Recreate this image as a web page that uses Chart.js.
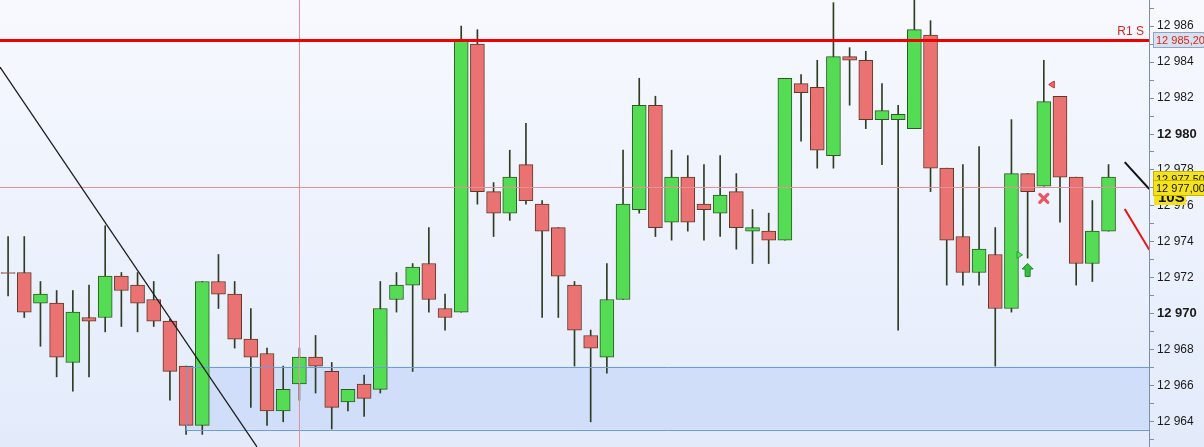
<!DOCTYPE html>
<html>
<head>
<meta charset="utf-8">
<script src="https://cdn.jsdelivr.net/npm/chart.js@4.4.1/dist/chart.umd.min.js"></script>
<style>
  html, body { margin: 0; padding: 0; background: #fff; }
  #wrap { width: 1204px; height: 447px; }
</style>
</head>
<body>
<div id="wrap"><canvas id="myChart" width="1204" height="447"></canvas></div>
<script>
// ------------------------- data ---------------------------------------
const opens  = [12972.3,12972.3,12970.6,12970.6,12967.3,12969.8,12969.8,12972.1,12971.6,12970.8,
                12969.6,12967.1,12963.8,12971.8,12971.1,12968.6,12967.8,12964.6,12966.1,12967.6,
                12966.8,12965.1,12966.1,12965.8,12970.8,12971.6,12972.8,12970.3,12970.1,12985.0,
                12976.8,12975.6,12978.3,12976.1,12974.8,12971.6,12968.8,12967.6,12970.8,12975.8,
                12981.6,12975.1,12977.6,12976.1,12975.6,12976.8,12974.6,12974.6,12974.1,12982.8,
                12982.6,12978.8,12984.3,12984.1,12980.8,12980.8,12980.3,12985.5,12978.1,12974.3,
                12972.3,12973.3,12970.3,12977.8,12977.1,12982.1,12977.6,12972.8,12974.6];
const highs  = [12974.3,12974.3,12971.8,12971.3,12971.3,12971.6,12974.9,12972.3,12972.3,12971.8,
                12969.7,12967.1,12971.8,12973.3,12971.8,12970.3,12968.1,12967.1,12968.1,12968.8,
                12967.3,12965.8,12966.6,12971.8,12972.3,12972.8,12974.8,12971.1,12986.0,12985.8,
                12977.3,12979.1,12980.6,12976.3,12974.8,12971.8,12969.1,12972.8,12979.1,12983.1,
                12982.1,12979.1,12978.8,12978.3,12978.8,12977.8,12975.8,12975.6,12983.1,12983.3,
                12984.1,12987.3,12984.8,12984.6,12982.8,12981.6,12987.5,12986.3,12978.1,12978.3,
                12979.3,12974.8,12980.8,12977.8,12984.1,12982.1,12977.6,12976.3,12978.3];
const lows   = [12971.0,12969.8,12968.2,12966.5,12965.7,12966.5,12969.0,12969.3,12969.0,12969.3,
                12965.2,12963.3,12963.3,12970.3,12968.1,12964.8,12963.8,12964.0,12965.2,12965.6,
                12963.6,12964.6,12964.3,12965.6,12970.1,12966.8,12970.1,12969.1,12970.1,12976.1,
                12974.3,12975.2,12976.1,12969.8,12969.8,12967.1,12964.0,12966.7,12970.8,12975.6,
                12974.3,12974.1,12974.6,12974.1,12974.3,12973.6,12972.8,12972.8,12974.1,12979.6,
                12978.1,12978.1,12981.6,12980.3,12978.3,12969.1,12980.3,12976.8,12971.6,12971.6,
                12971.6,12967.1,12970.1,12973.1,12977.1,12975.1,12971.6,12971.8,12974.6];
const closes = [12972.25,12970.1,12971.1,12967.6,12970.1,12969.6,12972.1,12971.3,12970.6,12969.6,
                12966.8,12963.8,12971.8,12971.1,12968.6,12967.6,12964.6,12965.8,12967.6,12967.1,
                12964.8,12965.8,12965.3,12970.3,12971.6,12972.6,12970.8,12969.8,12985.2,12976.8,
                12975.6,12977.6,12976.3,12974.6,12972.1,12969.1,12968.1,12970.8,12976.1,12981.6,
                12974.8,12977.6,12975.1,12975.8,12976.6,12974.8,12974.8,12974.1,12983.1,12982.3,
                12979.1,12984.3,12984.1,12980.8,12981.3,12981.1,12985.8,12978.1,12974.1,12972.3,
                12973.6,12970.3,12977.8,12976.8,12981.8,12977.6,12972.8,12974.6,12977.6];
const slots = 71; // two empty slots after the last candle

// levels and drawings (price / bar index)
const r1Level = 12985.20;
const crossLevel = 12977.05;
const crossIndex = 18;
const zoneTop = 12967.06, zoneBottom = 12963.56, zoneStart = 11;
const trendMain = [[-0.5, 12983.72], [15.38, 12962.61]];
const trendBlack = [[69.0, 12978.44], [70.52, 12976.94]];
const trendRed = [[69.0, 12975.83], [70.52, 12973.56]];
const markerIdx  = [64.49, 64.0, 63.0, 62.5];
const markerVal  = [12982.75, 12976.42, 12972.44, 12973.28];
const markerKind = ["triLeft", "cross", "arrowUp", "triRight"];
const priceTags = [
  { value: 12976.48, text: "10S", kind: "tag" },
  { value: 12977.50, text: "12 977,50", kind: "yellow" },
  { value: 12977.00, text: "12 977,00", kind: "yellow" },
  { value: 12985.20, text: "12 985,20", kind: "r1" }
];

// ------------------------- chart ---------------------------------------
const labels = [];
for (let i = 0; i < slots; i++) labels.push(String(i + 1));
const wicks = labels.map((l, i) => i < opens.length ? [lows[i], highs[i]] : null);
const bodies = labels.map((l, i) => i < opens.length ? [opens[i], closes[i]] : null);
const isUp = (i) => closes[i] >= opens[i];

function fmt(v) {
  const s = String(Math.round(v));
  return s.slice(0, s.length - 3) + " " + s.slice(-3);
}

const font = "'Liberation Sans', Arial, sans-serif";

const overlay = {
  id: "overlay",
  beforeDraw(chart) {
    const { ctx, chartArea: a, scales: { x, y } } = chart;
    ctx.save();
    const g = ctx.createLinearGradient(0, 0, 0, chart.height);
    g.addColorStop(0, "#f7f9fe");
    g.addColorStop(1, "#e3ebfb");
    ctx.fillStyle = g;
    ctx.fillRect(0, 0, chart.width, chart.height);
    // demand zone fill
    const zx = x.getPixelForValue(zoneStart);
    const zt = y.getPixelForValue(zoneTop), zb = y.getPixelForValue(zoneBottom);
    ctx.fillStyle = "#d1defa";
    ctx.fillRect(zx, zt, a.right - zx, zb - zt);
    ctx.restore();
  },
  afterDatasetsDraw(chart) {
    const { ctx, chartArea: a, scales: { x, y } } = chart;
    ctx.save();
    ctx.beginPath();
    ctx.rect(a.left, a.top, a.right - a.left, a.bottom - a.top);
    ctx.clip();
    // zone border
    const zx = Math.round(x.getPixelForValue(zoneStart)) + 0.5;
    const zt = Math.round(y.getPixelForValue(zoneTop)) + 0.5, zb = Math.round(y.getPixelForValue(zoneBottom)) + 0.5;
    ctx.strokeStyle = "#6e9ae0";
    ctx.lineWidth = 1;
    ctx.beginPath();
    ctx.moveTo(a.right, zt); ctx.lineTo(zx, zt); ctx.lineTo(zx, zb); ctx.lineTo(a.right, zb);
    ctx.stroke();
    // crosshair
    ctx.fillStyle = "#e8909a";
    const cy = Math.round(y.getPixelForValue(crossLevel));
    const cx = Math.round(x.getPixelForValue(crossIndex));
    ctx.fillRect(a.left, cy, a.right - a.left, 1);
    ctx.fillRect(cx, a.top, 1, a.bottom - a.top);
    // R1 line
    const ry = Math.round(y.getPixelForValue(r1Level));
    ctx.fillStyle = "#f00000";
    ctx.fillRect(a.left, ry - 1, a.right - a.left, 3);
    // trend lines
    const seg = (pts, color, w) => {
      ctx.strokeStyle = color;
      ctx.lineWidth = w;
      ctx.beginPath();
      ctx.moveTo(x.getPixelForValue(pts[0][0]), y.getPixelForValue(pts[0][1]));
      ctx.lineTo(x.getPixelForValue(pts[1][0]), y.getPixelForValue(pts[1][1]));
      ctx.stroke();
    };
    seg(trendMain, "#1c1c1c", 1.3);
    seg(trendBlack, "#111111", 2);
    seg(trendRed, "#f01010", 2);
    // markers
    markerKind.forEach((k, i) => {
      const px = x.getPixelForValue(markerIdx[i]), py = y.getPixelForValue(markerVal[i]);
      ctx.lineWidth = 1;
      if (k === "triLeft") {
        ctx.fillStyle = "#f07070"; ctx.strokeStyle = "#d02020";
        ctx.beginPath();
        ctx.moveTo(px - 3, py); ctx.lineTo(px + 2.5, py - 3.5); ctx.lineTo(px + 2.5, py + 3.5); ctx.closePath();
        ctx.fill(); ctx.stroke();
      } else if (k === "triRight") {
        ctx.fillStyle = "#60e060"; ctx.strokeStyle = "#20a020";
        ctx.beginPath();
        ctx.moveTo(px + 3, py); ctx.lineTo(px - 2.5, py - 3.5); ctx.lineTo(px - 2.5, py + 3.5); ctx.closePath();
        ctx.fill(); ctx.stroke();
      } else if (k === "cross") {
        ctx.strokeStyle = "#ea5560"; ctx.lineWidth = 3.2; ctx.lineCap = "round";
        ctx.beginPath();
        ctx.moveTo(px - 4, py - 4); ctx.lineTo(px + 4, py + 4);
        ctx.moveTo(px + 4, py - 4); ctx.lineTo(px - 4, py + 4);
        ctx.stroke();
        ctx.lineCap = "butt";
      } else if (k === "arrowUp") {
        ctx.fillStyle = "#33c040"; ctx.strokeStyle = "#1e8a28";
        ctx.beginPath();
        ctx.moveTo(px, py - 6.5); ctx.lineTo(px + 5.5, py - 1); ctx.lineTo(px + 2.5, py - 1);
        ctx.lineTo(px + 2.5, py + 6.5); ctx.lineTo(px - 2.5, py + 6.5); ctx.lineTo(px - 2.5, py - 1);
        ctx.lineTo(px - 5.5, py - 1); ctx.closePath();
        ctx.fill(); ctx.stroke();
      }
    });
    ctx.restore();
  },
  afterDraw(chart) {
    const { ctx, chartArea: a, scales: { y } } = chart;
    ctx.save();
    const ry = Math.round(y.getPixelForValue(r1Level));
    ctx.fillStyle = "#e0231c";
    ctx.font = "12px " + font;
    ctx.textAlign = "right";
    ctx.textBaseline = "bottom";
    ctx.fillText("R1 S", a.right - 5, ry - 2);
    priceTags.forEach(t => {
      const py = Math.round(y.getPixelForValue(t.value));
      ctx.textAlign = "left";
      ctx.textBaseline = "middle";
      if (t.kind === "tag") {
        ctx.fillStyle = "#f4e21c";
        ctx.fillRect(a.right + 5, py - 8, 32, 16);
        ctx.fillStyle = "#111";
        ctx.font = "bold 15px " + font;
        ctx.fillText(t.text, a.right + 9, py + 1);
      } else {
        const yellow = t.kind === "yellow";
        ctx.fillStyle = yellow ? "#f4e21c" : "#d6e0ee";
        ctx.fillRect(a.right + 4, py - 8, chart.width - a.right - 4, 16);
        ctx.strokeStyle = yellow ? "#c8b400" : "#8fa4c4";
        ctx.lineWidth = 1;
        ctx.strokeRect(a.right + 4.5, py - 7.5, chart.width - a.right, 15);
        ctx.fillStyle = yellow ? "#111" : "#e0231c";
        ctx.font = "11px " + font;
        ctx.fillText(t.text, a.right + 7, py + 0.5);
      }
    });
    ctx.restore();
  }
};

const ctx = document.getElementById("myChart").getContext("2d");
const chart = new Chart(ctx, {
  type: "bar",
  data: {
    labels: labels,
    datasets: [
      {
        label: "wick",
        data: wicks,
        backgroundColor: "#2f3d22",
        barThickness: 1,
        grouped: false,
        order: 2
      },
      {
        label: "body",
        data: bodies,
        backgroundColor: labels.map((l, i) => i < opens.length ? (isUp(i) ? "#55dc55" : "#ea7272") : "transparent"),
        borderColor: labels.map((l, i) => i < opens.length ? (isUp(i) ? "#2c5a20" : "#5e3a24") : "transparent"),
        borderWidth: 1,
        borderSkipped: false,
        barThickness: 14,
        grouped: false,
        order: 1
      }
    ]
  },
  options: {
    responsive: false,
    animation: false,
    devicePixelRatio: 1,
    layout: { padding: 0 },
    plugins: { legend: { display: false }, tooltip: { enabled: false } },
    scales: {
      x: { type: "category", display: false, offset: true },
      y: {
        position: "right",
        min: 12962.6,
        max: 12987.45,
        afterFit: (s) => { s.width = 55; s.paddingTop = 0; s.paddingBottom = 0; },
        border: { color: "#7d8ea8" },
        grid: { drawOnChartArea: false, drawTicks: true, tickLength: 5, tickColor: "#7d8ea8" },
        ticks: {
          stepSize: 1,
          includeBounds: false,
          autoSkip: false,
          padding: 3,
          color: "#1a1a1a",
          font: (c) => (c.tick && c.tick.value % 10 === 0)
            ? { family: font, size: 13, weight: "bold" }
            : { family: font, size: 12 },
          callback: (v) => v % 2 === 0 ? fmt(v) : ""
        }
      }
    }
  },
  plugins: [overlay]
});
</script>
</body>
</html>
